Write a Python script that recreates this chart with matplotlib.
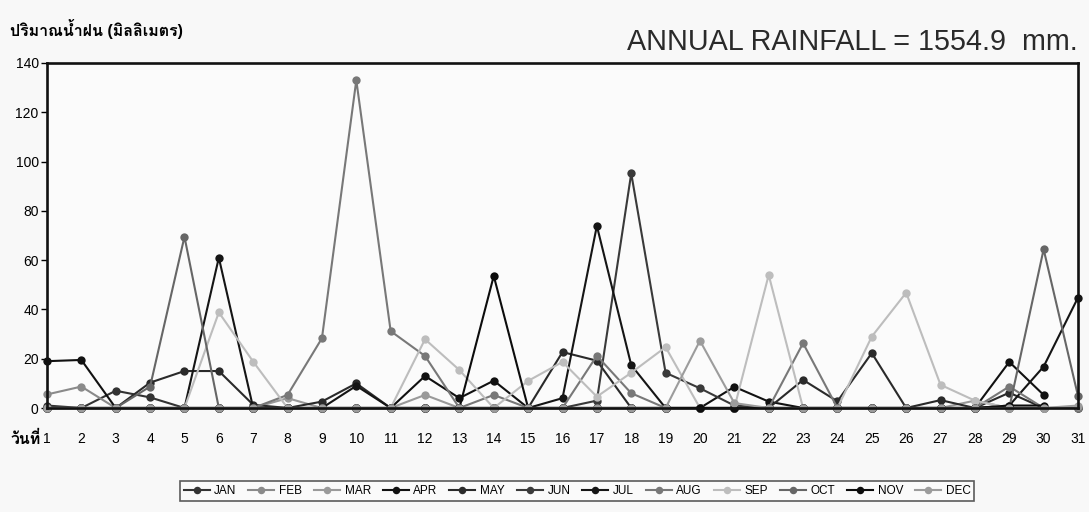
import numpy as np
import matplotlib
matplotlib.use("Agg")
import matplotlib.pyplot as plt
from matplotlib import font_manager as fm
from matplotlib.ft2font import FT2Font

nan = np.nan
days = list(range(1, 32))
months = ["JAN", "FEB", "MAR", "APR", "MAY", "JUN",
          "JUL", "AUG", "SEP", "OCT", "NOV", "DEC"]

def month_series(n_days, values):
    """Daily rainfall list for a month: zeros except the given {day: mm}."""
    s = [0.0] * n_days + [nan] * (31 - n_days)
    for d, v in values.items():
        s[d - 1] = v
    return s

jan = month_series(31, {1: 1, 3: 7, 4: 4.3})
feb = month_series(28, {1: 5.5, 2: 8.7})
mar = month_series(31, {8: 4, 12: 5.3, 28: 3})
apr = month_series(30, {1: 19, 2: 19.5, 12: 13, 13: 4, 14: 11.1, 21: 8.6,
                        22: 2.6, 29: 18.7, 30: 5.3})
may = month_series(31, {4: 10.3, 5: 15, 6: 15, 7: 1.3, 9: 2.6, 10: 10,
                        16: 22.7, 17: 19.2, 23: 11.4, 24: 2.7, 25: 22.3,
                        27: 3.2, 29: 6.2})
jun = month_series(30, {17: 3, 18: 95.2, 19: 14.3, 20: 8, 21: 1})
jul = month_series(31, {6: 61, 10: 9, 16: 4, 17: 73.9, 18: 17.4, 29: 1,
                        30: 16.8, 31: 44.8})
aug = month_series(31, {8: 5.3, 9: 28.3, 10: 133, 11: 31.2, 12: 21.1,
                        14: 5.3, 17: 21.2, 18: 6, 23: 26.3, 29: 8.7})
sep = month_series(30, {6: 38.8, 7: 18.8, 12: 27.9, 13: 15.4, 15: 11,
                        16: 18.7, 17: 4.6, 18: 14.3, 19: 24.7, 22: 54,
                        25: 29, 26: 46.8, 27: 9.4, 28: 3})
oct_ = month_series(31, {4: 8.7, 5: 69.5, 30: 64.4, 31: 4.9})
nov = month_series(30, {14: 53.6, 29: 1, 30: 1})
dec = month_series(31, {20: 27.3, 21: 2, 31: 1})

rainfall = [jan, feb, mar, apr, may, jun, jul, aug, sep, oct_, nov, dec]
colors = ["#333333", "#8a8a8a", "#9a9a9a", "#111111", "#2a2a2a", "#3a3a3a",
          "#151515", "#787878", "#bdbdbd", "#666666", "#0c0c0c", "#9c9c9c"]

annual_total = 1554.9
y_ticks = list(range(0, 141, 20))
y_title = "ปริมาณน้ำฝน (มิลลิเมตร)"
x_title = "วันที่"


def find_thai_family():
    """Return the name of an installed font family that covers Thai script."""
    paths = {f.fname for f in fm.fontManager.ttflist}
    try:
        paths |= set(fm.findSystemFonts())
    except Exception:
        pass
    preferred = []
    others = []
    for p in sorted(paths):
        try:
            font = FT2Font(p)
            cmap = font.get_charmap()
        except Exception:
            continue
        if all(ord(ch) in cmap for ch in "กมลณน้ำ"):
            try:
                fm.fontManager.addfont(p)
                name = fm.FontProperties(fname=p).get_name()
            except Exception:
                continue
            (preferred if "bold" in p.lower() else others).append(name)
    names = others + preferred
    return names[0] if names else None


thai_family = find_thai_family()
families = ["Liberation Sans", "DejaVu Sans"]
if thai_family:
    families.insert(1, thai_family)
plt.rcParams["font.family"] = families

fig = plt.figure(figsize=(10.89, 5.12), dpi=100, facecolor="#f8f8f8")
ax = fig.add_axes([47 / 1089, 1 - 408 / 512, (1078 - 47) / 1089, (408 - 63) / 512])
ax.set_facecolor("#fbfbfb")

for name, vals, c in zip(months, rainfall, colors):
    ax.plot(days, vals, color=c, lw=1.5, marker="o", markersize=6,
            markeredgewidth=0, label=name, clip_on=False)

ax.set_xlim(1, 31)
ax.set_ylim(0, 140)
ax.set_yticks(y_ticks)
ax.set_xticks(days)
ax.set_xticklabels([str(d) for d in days])
ax.tick_params(axis="x", length=0, pad=17, labelsize=10)
ax.tick_params(axis="y", length=4, width=1, labelsize=10, pad=2, direction="out")
for sp in ax.spines.values():
    sp.set_linewidth(1.9)
    sp.set_color("#111111")

fig.text(10 / 1089, 1 - 29 / 512, y_title, fontsize=11.5,
         fontweight="bold", va="center", ha="left")
fig.text(1078 / 1089, 1 - 42 / 512, f"ANNUAL RAINFALL = {annual_total}  mm.",
         fontsize=20.7, va="center", ha="right", color="#2a2a2a")
fig.text(41 / 1089, 1 - 439 / 512, x_title, fontsize=11.5, fontweight="bold",
         va="center", ha="right")

leg = fig.legend(loc="center", bbox_to_anchor=(577 / 1089, 1 - 491 / 512),
                 ncol=12, fontsize=8.5, frameon=True, fancybox=False,
                 edgecolor="#333333", handlelength=2.2, handletextpad=0.4,
                 columnspacing=1.0, borderpad=0.3, markerscale=0.9)
leg.get_frame().set_linewidth(1.2)
leg.get_frame().set_facecolor("#fbfbfb")

fig.savefig("out.png", dpi=100, facecolor=fig.get_facecolor())
